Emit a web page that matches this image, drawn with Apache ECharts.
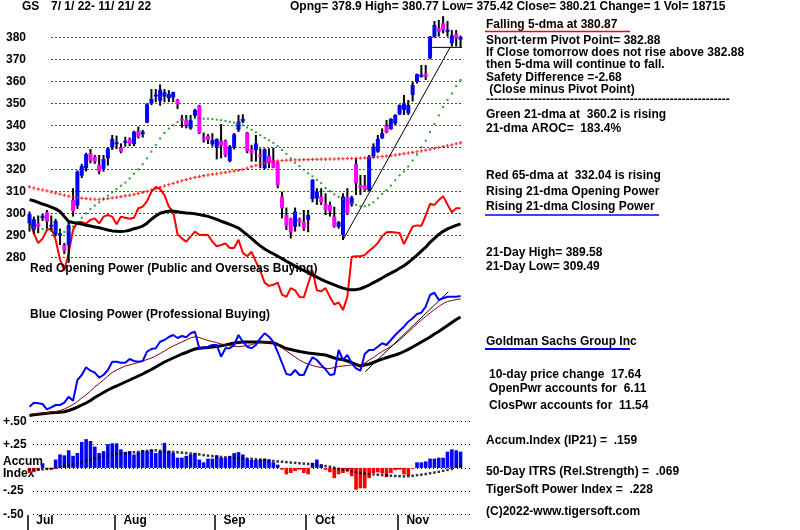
<!DOCTYPE html>
<html><head><meta charset="utf-8">
<script src="https://cdn.jsdelivr.net/npm/echarts@6/dist/echarts.min.js"></script>
<style>html,body{margin:0;padding:0;background:#fff}#c{width:800px;height:530px}</style>
</head><body><div id="c"></div>
<script>
// ---- data ----
const monthNames = ['Jul','Aug','Sep','Oct','Nov'];
const monthDays = [20,23,21,21,15];
const opens = [295.5,292.5,295.4,297.7,300.5,294.5,290.5,289.8,285.5,285.5,306.0,303.5,317.1,320.5,327.3,325.8,322.0,320.2,325.0,329.8,
331.8,329.8,332.3,333.8,331.4,337.4,335.9,341.2,350.0,353.3,351.1,353.0,352.3,352.6,351.5,343.0,342.3,338.6,344.4,349.0,
334.5,335.2,331.4,329.8,332.9,332.9,323.8,330.2,337.9,341.7,336.7,329.1,328.8,326.7,320.5,326.2,324.2,323.0,307.6,299.2,
297.7,293.9,297.4,296.2,297.0,306.5,306.8,307.6,304.2,303.8,298.5,293.9,290.2,307.6,304.1,322.3,312.9,312.6,310.6,325.8,
328.0,334.1,339.7,338.3,340.9,345.0,347.0,345.5,353.8,359.8,362.0,363.5,370.5,380.3,384.1,386.4,382.5,377.3,381.5,378.9];
const highs = [300.8,298.5,299.0,300.0,301.5,299.0,297.5,293.0,286.5,296.0,311.4,319.5,322.5,327.5,329.2,326.5,326.5,326.5,330.0,335.6,
335.3,331.8,334.8,334.5,337.5,339.4,337.9,350.0,356.5,356.5,358.6,356.5,356.0,355.3,352.0,344.7,344.7,344.7,347.5,349.3,
336.7,336.0,336.4,334.0,340.6,333.5,331.0,336.5,344.7,345.0,337.0,331.1,335.6,329.5,329.5,329.5,329.8,323.5,309.8,302.6,
298.0,302.6,298.0,301.5,301.5,315.5,311.4,311.4,309.1,305.3,303.0,296.5,309.1,311.4,308.0,325.0,317.4,317.4,326.5,331.8,
335.6,338.6,342.4,343.2,345.0,349.5,353.8,351.5,359.8,363.5,367.4,367.4,380.5,387.4,387.9,389.6,387.4,383.3,383.3,380.77];
const lows = [291.7,290.5,291.0,296.5,293.0,291.7,289.5,285.6,281.5,277.5,298.5,302.0,316.0,319.0,322.7,322.5,317.7,318.9,321.7,328.8,
329.2,327.3,330.3,330.5,330.5,334.0,334.4,341.0,349.2,350.5,348.9,350.5,350.5,350.5,347.4,338.9,338.6,338.0,343.5,336.0,
332.1,331.5,330.3,324.5,325.0,325.5,323.2,329.0,337.0,341.0,327.3,323.5,323.5,320.5,320.0,320.5,320.5,311.4,297.7,292.4,
288.6,291.7,294.0,292.0,291.4,305.0,303.8,303.8,299.2,298.5,293.5,293.0,287.9,299.2,303.0,308.3,308.3,309.8,310.0,325.0,
327.5,333.8,336.4,338.0,340.0,344.7,344.7,344.7,350.8,359.0,361.7,360.6,370.0,379.8,380.3,381.8,380.3,375.8,375.8,375.42];
const closes = [299.7,297.3,293.9,298.9,296.2,294.8,296.5,290.9,283.0,294.5,301.0,318.9,321.5,326.8,324.0,323.5,319.0,324.7,329.5,333.8,
332.3,328.0,332.9,331.7,337.1,334.8,337.1,349.5,352.0,354.0,356.1,355.0,354.2,355.0,349.5,342.5,340.2,342.3,347.0,336.4,
334.0,333.3,333.2,333.8,330.8,326.5,330.3,335.9,341.7,342.9,328.3,327.3,331.8,326.3,329.1,322.7,320.8,312.9,302.3,294.4,
291.4,300.8,296.2,293.2,299.2,315.2,309.8,305.0,301.5,300.8,293.9,295.9,307.6,300.0,307.1,313.6,311.4,310.6,325.8,330.3,
333.8,336.4,336.8,342.9,344.7,349.2,350.0,349.2,358.3,363.2,363.0,362.1,380.3,385.6,382.6,383.3,383.5,380.8,379.5,380.21];
const ma21 = [294.0,293.6,293.2,292.8,292.5,292.2,291.9,291.7,291.5,292.3,294.0,296.0,298.0,300.0,302.0,303.5,305.0,306.5,308.0,309.5,
311.0,312.5,314.0,315.8,318.0,320.0,322.3,325.0,328.0,331.0,334.0,336.5,338.5,340.0,341.5,342.3,342.8,343.0,343.2,343.2,
343.0,343.0,342.8,342.6,342.3,342.0,341.6,341.2,340.7,340.0,339.0,338.0,336.8,335.5,334.3,333.2,332.0,330.6,328.8,327.0,
325.0,323.0,321.5,319.8,318.2,316.8,315.2,313.7,311.5,310.0,308.6,307.5,306.5,305.5,304.6,303.8,303.2,303.2,303.8,305.0,
306.8,308.8,310.5,312.6,315.0,317.3,319.0,321.3,324.0,326.7,330.0,333.0,337.0,340.5,344.5,348.3,351.5,354.5,357.8,360.6];
const ma65 = [312.0,311.5,311.0,310.6,310.2,309.7,309.2,308.7,308.2,307.8,307.4,307.1,306.9,306.7,306.5,306.4,306.4,306.5,306.7,307.0,
307.3,307.6,307.9,308.2,308.6,309.0,309.5,310.0,310.6,311.2,311.8,312.4,313.0,313.6,314.2,314.8,315.3,315.8,316.3,316.7,
317.1,317.4,317.7,318.0,318.3,318.6,318.9,319.2,319.5,319.9,320.5,321.2,321.8,322.4,322.8,323.2,323.5,323.8,324.0,324.1,
324.2,324.3,324.3,324.4,324.4,324.5,324.5,324.6,324.6,324.7,324.7,324.8,324.8,324.9,324.9,325.0,325.1,325.2,325.3,325.4,
325.6,325.8,326.0,326.2,326.5,326.8,327.1,327.4,327.7,328.0,328.3,328.7,329.1,329.5,329.9,330.3,330.7,331.1,331.6,332.04];
const openPower = [297.3,290.9,286.5,288.5,292.4,293.2,288.0,279.0,274.0,282.0,292.4,296.0,296.0,295.4,297.0,297.7,295.4,298.5,299.2,298.5,
295.0,298.5,298.0,297.5,298.0,302.3,303.0,305.5,309.8,312.0,311.0,308.3,303.0,300.7,290.5,288.6,287.1,289.4,291.7,290.1,
290.2,290.1,287.1,285.0,285.6,286.3,284.2,284.2,288.0,282.0,280.5,282.5,278.0,274.0,268.5,267.0,267.5,268.5,263.0,262.0,
266.0,265.0,262.0,261.8,268.0,274.0,265.0,264.5,266.0,262.0,258.5,259.5,256.0,262.0,280.3,280.5,280.5,281.0,283.0,284.5,
286.5,289.5,291.4,291.5,291.3,291.0,286.0,290.0,294.0,294.5,294.3,299.0,304.3,303.8,306.0,307.8,304.0,300.5,302.3,302.3];
const openPowerMA = [306.2,305.7,305.0,304.2,303.6,302.8,302.0,300.8,298.5,296.3,295.8,295.5,295.1,294.6,294.2,293.8,293.4,292.9,292.4,292.0,
291.8,291.7,291.9,292.3,293.0,293.5,294.2,295.5,297.3,298.8,300.0,300.6,301.0,300.9,300.7,300.4,300.1,300.0,299.8,299.4,
299.0,298.6,297.9,297.2,296.4,295.7,295.0,294.2,293.3,291.8,290.2,288.6,286.8,285.2,283.8,282.6,281.6,280.5,279.4,278.2,
277.1,276.0,275.0,274.0,273.0,272.0,271.0,270.0,269.1,268.3,267.5,266.7,266.0,265.4,265.2,265.3,265.7,266.5,267.4,268.5,
269.5,270.6,271.8,272.8,273.8,275.0,276.2,277.6,279.3,281.0,282.8,284.6,286.8,288.6,290.4,291.8,292.9,293.7,294.5,295.2];
const closePower = [13.3,17.3,16.7,16.0,10.7,12.7,15.0,15.0,17.3,23.3,19.3,40.0,45.0,52.7,49.3,47.3,42.3,45.0,50.0,58.3,
58.3,57.3,57.3,61.0,59.0,58.3,59.0,68.3,71.0,71.7,78.3,80.0,83.0,85.0,82.0,84.0,82.7,86.7,88.3,71.7,
71.7,73.3,75.0,75.0,63.3,71.7,71.7,75.0,85.0,78.3,73.3,71.7,75.0,81.7,86.7,83.3,78.0,68.0,57.0,46.0,
45.0,50.0,45.0,45.0,55.0,62.7,60.0,55.0,50.7,45.0,45.7,70.0,60.0,65.0,56.7,51.7,49.3,66.0,70.0,70.0,
73.3,76.7,75.0,80.0,85.0,89.3,93.3,98.3,101.7,106.0,107.3,113.3,125.0,127.3,120.0,121.7,123.3,123.3,123.3,124.0];
const closePowerMA = [5.5,6.0,6.5,7.0,7.3,7.8,8.5,9.5,11.0,13.0,15.5,18.5,22.0,25.0,29.0,33.0,36.5,40.0,44.0,47.5,
50.0,52.0,54.0,55.0,56.3,57.5,59.0,60.5,62.0,64.0,66.5,69.0,71.5,74.0,76.0,78.0,80.0,82.0,83.3,82.5,
81.0,79.5,78.5,77.3,76.0,75.0,74.3,73.5,73.3,73.8,74.5,75.3,76.7,77.5,78.3,78.0,76.5,74.5,72.0,69.0,
66.0,63.0,60.0,57.5,56.0,54.5,53.3,52.5,51.7,51.5,52.5,53.5,54.0,54.5,55.0,55.0,55.5,57.0,60.0,62.5,
65.5,68.5,71.0,73.5,76.5,80.0,84.0,88.0,92.0,96.0,100.0,103.5,107.0,110.5,113.5,116.5,118.5,119.5,120.5,121.0];
const closePowerLong = [4.5,5.2,5.8,6.3,6.7,7.2,7.5,7.8,8.3,9.5,11.0,12.8,15.0,17.0,19.5,22.5,25.0,27.5,30.0,32.2,
34.0,36.0,38.0,40.0,42.0,44.0,46.0,48.3,50.5,53.0,55.5,58.0,60.0,62.0,64.0,66.0,67.5,69.3,71.0,71.8,
72.3,72.6,73.0,73.5,74.2,75.0,76.0,77.0,77.6,78.0,78.0,78.0,78.0,78.0,77.8,77.5,77.0,75.5,73.5,71.5,
70.5,69.5,68.5,67.7,67.0,66.5,66.0,65.5,65.0,63.5,62.0,61.0,60.3,59.0,57.5,55.5,54.0,55.0,56.0,57.5,
59.3,60.8,62.3,63.7,65.0,66.5,68.5,70.7,73.0,75.5,78.0,80.5,83.0,86.0,88.5,91.5,94.5,97.5,100.5,103.0];
const accumIndex = [-0.055,-0.045,-0.03,0.05,-0.015,-0.015,0.09,0.145,0.135,0.19,0.13,0.16,0.28,0.31,0.29,0.23,0.16,0.18,0.255,0.265,
0.265,0.2,0.17,0.18,0.145,0.17,0.19,0.18,0.2,0.16,0.18,0.27,0.18,0.16,0.11,0.11,0.13,0.145,0.16,0.09,
0.06,0.1,0.1,0.135,0.11,0.11,0.13,0.16,0.17,0.145,0.1,0.085,0.085,0.09,0.1,0.09,0.06,0.035,-0.02,-0.07,
-0.055,-0.035,-0.02,-0.055,-0.07,0.055,0.09,0.035,-0.02,-0.047,-0.11,-0.07,-0.055,-0.035,-0.09,-0.235,-0.22,-0.22,-0.11,-0.055,
-0.047,-0.06,-0.1,-0.055,-0.025,-0.02,-0.07,-0.085,-0.01,0.06,0.06,0.07,0.1,0.1,0.11,0.11,0.175,0.2,0.19,0.175];
const accumMA = [-0.02,-0.02,-0.018,-0.015,-0.012,-0.01,0.0,0.01,0.02,0.028,0.037,0.047,0.06,0.075,0.088,0.1,0.11,0.125,0.135,0.145,
0.152,0.156,0.16,0.164,0.168,0.172,0.18,0.184,0.187,0.189,0.185,0.178,0.175,0.172,0.168,0.164,0.16,0.155,0.15,0.145,
0.138,0.132,0.127,0.122,0.118,0.114,0.11,0.107,0.105,0.102,0.1,0.097,0.093,0.09,0.086,0.08,0.074,0.07,0.066,0.062,
0.058,0.054,0.05,0.046,0.043,0.038,0.034,0.028,0.02,0.012,0.002,-0.01,-0.018,-0.027,-0.036,-0.045,-0.054,-0.062,-0.066,-0.07,
-0.073,-0.077,-0.08,-0.084,-0.087,-0.089,-0.091,-0.09,-0.085,-0.078,-0.073,-0.066,-0.058,-0.05,-0.042,-0.032,-0.022,-0.01,0.015,0.03];
const priceTrend = [[72, 287.9],[96.6, 375.42]];
const pivotLine = [[92.5, 375.42],[104.5, 375.42]];
const powerTrend = [[77.1, 48.3],[96.2, 128.3]];
const accumTickLabels = {'-0.5':'-.50','-0.25':'-.25','0':'Accum\nIndex','0.25':'+.25','0.5':'+.50'};

// ---- build ----
const N = closes.length;
const monthBounds = []; const monthAt = {};
let acc = 0;
monthNames.forEach((m, k) => { const b = acc - 0.5; monthBounds.push(b); monthAt[String(b)] = m; acc += monthDays[k]; });
const idx = (arr) => arr.map((v, i) => [i, v]);

const FONT = '"Liberation Sans", Arial, sans-serif';
const BF = 'bold 12px ' + FONT;
const PX = 4.354, LEFT = 29.5, W = PX * 99;

const chart = echarts.init(document.getElementById('c'), null, {renderer: 'canvas'});
function vx(gi, min, max) { return {type: 'value', gridIndex: gi, min: min, max: max, show: false}; }

function T(text, x, y, color) {
  return {type: 'text', x: x, y: y, z: 10, style: {text: text, font: BF, fill: color || '#000', textVerticalAlign: 'middle', verticalAlign: 'middle'}};
}
function L(x1, y1, x2, y2, color, w) {
  return {type: 'line', z: 10, shape: {x1: x1, y1: y1, x2: x2, y2: y2}, style: {stroke: color, lineWidth: w}};
}

const option = {
  animation: false,
  backgroundColor: '#fff',
  grid: [
    {left: LEFT, width: W, top: 15.3, height: 308},
    {left: 51, width: 411, top: 37.3, height: 220},
    {left: LEFT, width: W, top: 280, height: 140},
    {left: LEFT, width: W, top: 421.5, height: 92.8},
    {left: 32, width: 440, top: 421.5, height: 92.8},
    {left: LEFT - PX / 2, width: PX * 99.5, top: 400, height: 115}
  ],
  xAxis: [
    vx(0, 0, 99), vx(1, 0, 1), vx(2, 0, 99), vx(3, 0, 99), vx(4, 0, 1),
    {type: 'value', gridIndex: 5, min: -0.5, max: 99, show: true,
     axisLine: {show: false}, splitLine: {show: false},
     axisTick: {show: true, length: 15, customValues: monthBounds, lineStyle: {color: '#000', width: 1.5}},
     axisLabel: {show: true, customValues: monthBounds, formatter: (v) => monthAt[String(v)] || '',
       align: 'left', padding: [0, 0, 0, 9], margin: 0, fontFamily: FONT, fontWeight: 'bold', fontSize: 12, color: '#000'}}
  ],
  yAxis: [
    {type: 'value', gridIndex: 0, min: 250, max: 390, show: false},
    {type: 'value', gridIndex: 1, min: 280, max: 380, interval: 10,
     axisLine: {show: false}, axisTick: {show: false},
     splitLine: {show: true, lineStyle: {color: '#008000', type: [2, 2], width: 1}},
     axisLabel: {show: true, align: 'left', margin: 45, fontFamily: FONT, fontWeight: 'bold', fontSize: 12, color: '#000'}},
    {type: 'value', gridIndex: 2, min: 0, max: 140, show: false},
    {type: 'value', gridIndex: 3, min: -0.5, max: 0.5, show: false},
    {type: 'value', gridIndex: 4, min: -0.5, max: 0.5, interval: 0.25,
     axisLine: {show: false}, axisTick: {show: false},
     splitLine: {show: true, lineStyle: {color: '#000', type: [1, 3], width: 1}},
     axisLabel: {show: true, align: 'left', margin: 30, lineHeight: 12, fontFamily: FONT, fontWeight: 'bold', fontSize: 12, color: '#000',
       formatter: (v) => accumTickLabels[String(v)] || ''}},
    {type: 'value', gridIndex: 5, show: false}
  ],
  series: [
    {type: 'line', xAxisIndex: 0, yAxisIndex: 0, data: idx(openPower), showSymbol: false, symbol: 'none', lineStyle: {color: '#ff0000', width: 2}, z: 2},
    {type: 'line', xAxisIndex: 0, yAxisIndex: 0, data: idx(openPowerMA), showSymbol: false, symbol: 'none', lineStyle: {color: '#000', width: 3}, z: 2},
    {type: 'custom', xAxisIndex: 0, yAxisIndex: 0, z: 3,
     data: closes.map((c, i) => [i, opens[i], highs[i], lows[i], c]),
     renderItem: function (params, api) {
       const i = api.value(0), o = api.value(1), h = api.value(2), l = api.value(3), c = api.value(4);
       const pH = api.coord([i, h]), pL = api.coord([i, l]), pO = api.coord([i, o]), pC = api.coord([i, c]);
       const top = Math.min(pO[1], pC[1]), bot = Math.max(pO[1], pC[1]);
       return {type: 'group', children: [
         {type: 'rect', shape: {x: pH[0] - 1, y: pH[1], width: 2, height: pL[1] - pH[1]}, style: {fill: '#000'}},
         {type: 'rect', shape: {x: pH[0] - 2, y: top, width: 4, height: Math.max(bot - top, 2)}, style: {fill: c >= o ? '#0000ff' : '#ff00ff'}}
       ]};
     }},
    {type: 'scatter', xAxisIndex: 0, yAxisIndex: 0, data: idx(ma65), symbol: 'path://M1,0H2V1H3V2H2V3H1V2H0V1H1Z', symbolSize: 3.4, itemStyle: {color: '#ff0000'}, z: 4},
    {type: 'scatter', xAxisIndex: 0, yAxisIndex: 0, data: idx(ma21), symbol: 'rect', symbolSize: 2, itemStyle: {color: '#008000'}, z: 4},
    {type: 'line', xAxisIndex: 0, yAxisIndex: 0, data: priceTrend, symbol: 'none', lineStyle: {color: '#000', width: 1}, z: 5},
    {type: 'line', xAxisIndex: 0, yAxisIndex: 0, data: pivotLine, symbol: 'none', clip: false, lineStyle: {color: '#000', width: 1}, z: 5},
    {type: 'line', xAxisIndex: 2, yAxisIndex: 2, data: idx(closePowerLong), symbol: 'none', lineStyle: {color: '#000', width: 3}, z: 2},
    {type: 'line', xAxisIndex: 2, yAxisIndex: 2, data: idx(closePowerMA), symbol: 'none', lineStyle: {color: '#800000', width: 1}, z: 3},
    {type: 'line', xAxisIndex: 2, yAxisIndex: 2, data: idx(closePower), symbol: 'none', lineStyle: {color: '#0000ff', width: 2}, z: 4},
    {type: 'line', xAxisIndex: 2, yAxisIndex: 2, data: powerTrend, symbol: 'none', lineStyle: {color: '#000', width: 1}, z: 5},
    {type: 'bar', xAxisIndex: 3, yAxisIndex: 3, data: idx(accumIndex), barWidth: 3.6, z: 3,
     itemStyle: {color: (p) => p.value[1] >= 0 ? '#0000ff' : '#ff0000'}},
    {type: 'scatter', xAxisIndex: 3, yAxisIndex: 3, data: idx(accumMA), symbol: 'rect', symbolSize: 2.5, itemStyle: {color: '#000'}, z: 4}
  ],
  graphic: [
    T('GS', 22, 7), T('7/ 1/ 22- 11/ 21/ 22', 51, 7),
    T('Opng= 378.9 High= 380.77 Low= 375.42 Close= 380.21 Change= 1 Vol= 18715', 290, 7),
    T('Falling 5-dma at 380.87', 486, 25), L(485, 31.5, 630, 31.5, '#ff0000', 1.5),
    T('Short-term Pivot Point= 382.88', 486, 41),
    T('If Close tomorrow does not rise above 382.88', 486, 53),
    T('then 5-dma will continue to fall.', 486, 65),
    T('Safety Difference =-2.68', 486, 78),
    T(' (Close minus Pivot Point)', 486, 90),
    T('-------------------------------------------------------------', 486, 100),
    T('Green 21-dma at  360.2 is rising', 486, 115),
    T('21-dma AROC=  183.4%', 486, 129),
    T('Red 65-dma at  332.04 is rising', 486, 176),
    T('Rising 21-dma Opening Power', 486, 192),
    T('Rising 21-dma Closing Power', 486, 207), L(485, 215, 659, 215, '#0000ff', 1.5),
    T('21-Day High= 389.58', 486, 253),
    T('21-Day Low= 309.49', 486, 267),
    T('Goldman Sachs Group Inc', 486, 342), L(485, 349, 630, 349, '#0000ff', 2),
    T('10-day price change  17.64', 489, 375),
    T('OpenPwr accounts for  6.11', 489, 389),
    T('ClosPwr accounts for  11.54', 489, 406),
    T('Accum.Index (IP21) =  .159', 486, 441),
    T('50-Day ITRS (Rel.Strength) =  .069', 486, 472),
    T('TigerSoft Power Index =  .228', 486, 490),
    T('(C)2022-www.tigersoft.com', 486, 512),
    T('Red Opening Power (Public and Overseas Buying)', 30, 269),
    T('Blue Closing Power (Professional Buying)', 30, 315)
  ]
};
chart.setOption(option);
</script>
</body></html>
